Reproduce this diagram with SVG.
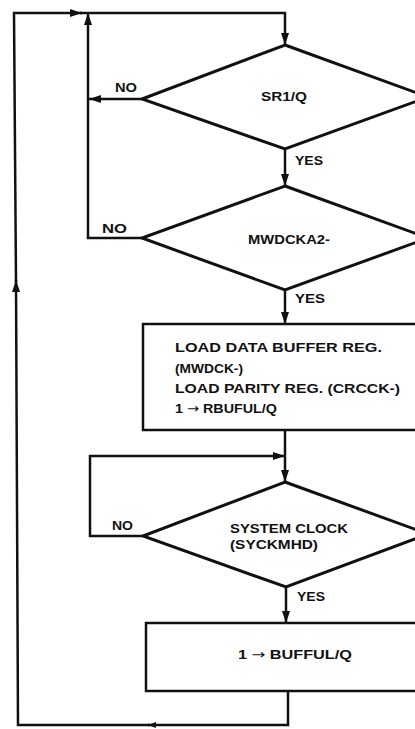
<svg xmlns="http://www.w3.org/2000/svg" width="415" height="729" viewBox="0 0 415 729">
<style>
.shape{fill:#fff;stroke:#111;stroke-width:3;stroke-linejoin:miter}
.box{fill:#fff;stroke:#111;stroke-width:2.5}
.conn{fill:none;stroke:#111;stroke-width:2.5}
text{font-family:"Liberation Sans",Arial,sans-serif;font-weight:bold;fill:#111;font-size:12.5px}
.bt{font-size:13px}
.ar{font-family:"DejaVu Sans",sans-serif;font-weight:normal}
</style>
<defs>
<marker id="ah" markerUnits="userSpaceOnUse" markerWidth="13" markerHeight="9" refX="12" refY="4" orient="auto">
<path d="M0,0 L12,4 L0,8 z" fill="#111"/>
</marker>
<marker id="ahs" markerUnits="userSpaceOnUse" markerWidth="9" markerHeight="7" refX="8" refY="3" orient="auto">
<path d="M0,0 L8,3 L0,6 z" fill="#111"/>
</marker>
</defs>
<g id="connectors">
<path class="conn" d="M288,691 L288,725 L148,725" marker-end="url(#ahs)"/>
<path class="conn" d="M150,725 L18,725 L16,280" marker-end="url(#ah)"/>
<path class="conn" d="M16,282 L14,13 L82,13" marker-end="url(#ah)"/>
<path class="conn" d="M80,13 L285,13 L285,45" marker-end="url(#ah)"/>
<path class="conn" d="M142,99 L89,99" marker-end="url(#ah)"/>
<path class="conn" d="M142,238 L88,238 L88,13" marker-end="url(#ah)"/>
<path class="conn" d="M285,149 L285,186" marker-end="url(#ah)"/>
<path class="conn" d="M285,290 L285,324" marker-end="url(#ah)"/>
<path class="conn" d="M285,430 L285,482" marker-end="url(#ah)"/>
<path class="conn" d="M143,536 L90,536 L90,456 L285,456" marker-end="url(#ah)"/>
<path class="conn" d="M286,587 L286,623" marker-end="url(#ah)"/>
<text x="115" y="92" textLength="22" lengthAdjust="spacingAndGlyphs">NO</text>
<text x="295" y="165" textLength="28" lengthAdjust="spacingAndGlyphs">YES</text>
<text x="102" y="233" textLength="25" lengthAdjust="spacingAndGlyphs">NO</text>
<text x="295" y="303" textLength="30" lengthAdjust="spacingAndGlyphs">YES</text>
<text x="112" y="530" textLength="21" lengthAdjust="spacingAndGlyphs">NO</text>
<text x="297" y="601" textLength="28" lengthAdjust="spacingAndGlyphs">YES</text>
</g>
<g id="sr1q">
<polygon class="shape" points="285,45 428,97 285,149 142,99"/>
<text x="261" y="101" textLength="46" lengthAdjust="spacingAndGlyphs">SR1/Q</text>
</g>
<g id="mwdcka2">
<polygon class="shape" points="285,186 428,238 285,290 142,238"/>
<text x="248" y="244" textLength="82" lengthAdjust="spacingAndGlyphs">MWDCKA2-</text>
</g>
<g id="load">
<rect class="box" x="143" y="324" width="290" height="106"/>
<text class="bt" x="175" y="352" textLength="207" lengthAdjust="spacingAndGlyphs">LOAD DATA BUFFER REG.</text>
<text class="bt" x="175" y="373" textLength="68" lengthAdjust="spacingAndGlyphs">(MWDCK-)</text>
<text class="bt" x="175" y="393" textLength="225" lengthAdjust="spacingAndGlyphs">LOAD PARITY REG. (CRCCK-)</text>
<text class="bt" x="175" y="413" textLength="102" lengthAdjust="spacingAndGlyphs">1 <tspan class="ar">→</tspan> RBUFUL/Q</text>
</g>
<g id="sysclock">
<polygon class="shape" points="285,482 428,534 286,587 143,536"/>
<text class="bt" x="230" y="533" textLength="118" lengthAdjust="spacingAndGlyphs">SYSTEM CLOCK</text>
<text class="bt" x="230" y="549" textLength="88" lengthAdjust="spacingAndGlyphs">(SYCKMHD)</text>
</g>
<g id="bufful">
<rect class="box" x="146" y="623" width="290" height="68"/>
<text class="bt" x="238" y="659" textLength="114" lengthAdjust="spacingAndGlyphs">1 <tspan class="ar">→</tspan> BUFFUL/Q</text>
</g>
</svg>
